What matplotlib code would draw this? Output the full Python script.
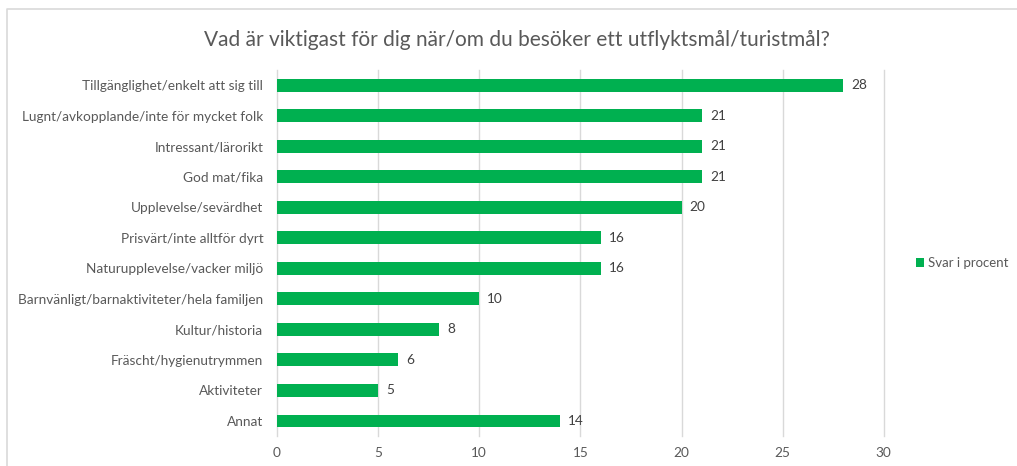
import matplotlib.pyplot as plt
from matplotlib.lines import Line2D

plt.rcParams['font.family'] = ['Lato', 'DejaVu Sans']

categories = [
    'Tillgänglighet/enkelt att sig till',
    'Lugnt/avkopplande/inte för mycket folk',
    'Intressant/lärorikt',
    'God mat/fika',
    'Upplevelse/sevärdhet',
    'Prisvärt/inte alltför dyrt',
    'Naturupplevelse/vacker miljö',
    'Barnvänligt/barnaktiviteter/hela familjen',
    'Kultur/historia',
    'Fräscht/hygienutrymmen',
    'Aktiviteter',
    'Annat',
]
values = [28, 21, 21, 21, 20, 16, 16, 10, 8, 6, 5, 14]
xticks = [0, 5, 10, 15, 20, 25, 30]
title = 'Vad är viktigast för dig när/om du besöker ett utflyktsmål/turistmål?'
series_name = 'Svar i procent'

green = '#00B050'
text_col = '#595959'

fig = plt.figure(figsize=(10.17, 4.66), dpi=100)
# chart border (only top and left edges are visible in the crop)
fig.lines.append(Line2D([0.007, 0.007, 1.0], [0.0, 0.981, 0.981], transform=fig.transFigure,
                        color='#D9D9D9', linewidth=1.2))

ax = fig.add_axes([0.2724, 0.064, 0.5966, 0.786])
pos = list(range(len(categories)))
bars = ax.barh(pos, values, height=0.42, color=green, label=series_name, zorder=3)
ax.set_ylim(len(categories) - 0.5, -0.5)
ax.set_xlim(0, 30)
ax.set_xticks(xticks)
ax.set_yticks(pos)
ax.set_yticklabels(categories)
ax.tick_params(axis='both', length=0, colors=text_col, labelsize=9.8)
ax.tick_params(axis='x', pad=8)
ax.tick_params(axis='y', pad=10)
ax.grid(axis='x', color='#D9D9D9', linewidth=1, zorder=0)
for gl in ax.get_xgridlines():
    gl.set_clip_on(False)
for s in ax.spines.values():
    s.set_visible(False)

for b, v in zip(bars, values):
    ax.text(b.get_width() + 0.4, b.get_y() + b.get_height() / 2, str(v),
            va='center', ha='left', fontsize=9.8, color='#404040')

fig.text(0.508, 0.915, title, ha='center', va='center', fontsize=15, color=text_col)

fig.legend(loc='center left', bbox_to_anchor=(0.901, 0.435), frameon=False,
           fontsize=9.5, labelcolor=text_col, handlelength=0.6, handleheight=0.6,
           handletextpad=0.3, borderpad=0, borderaxespad=0)

fig.savefig('out.png', dpi=100)
